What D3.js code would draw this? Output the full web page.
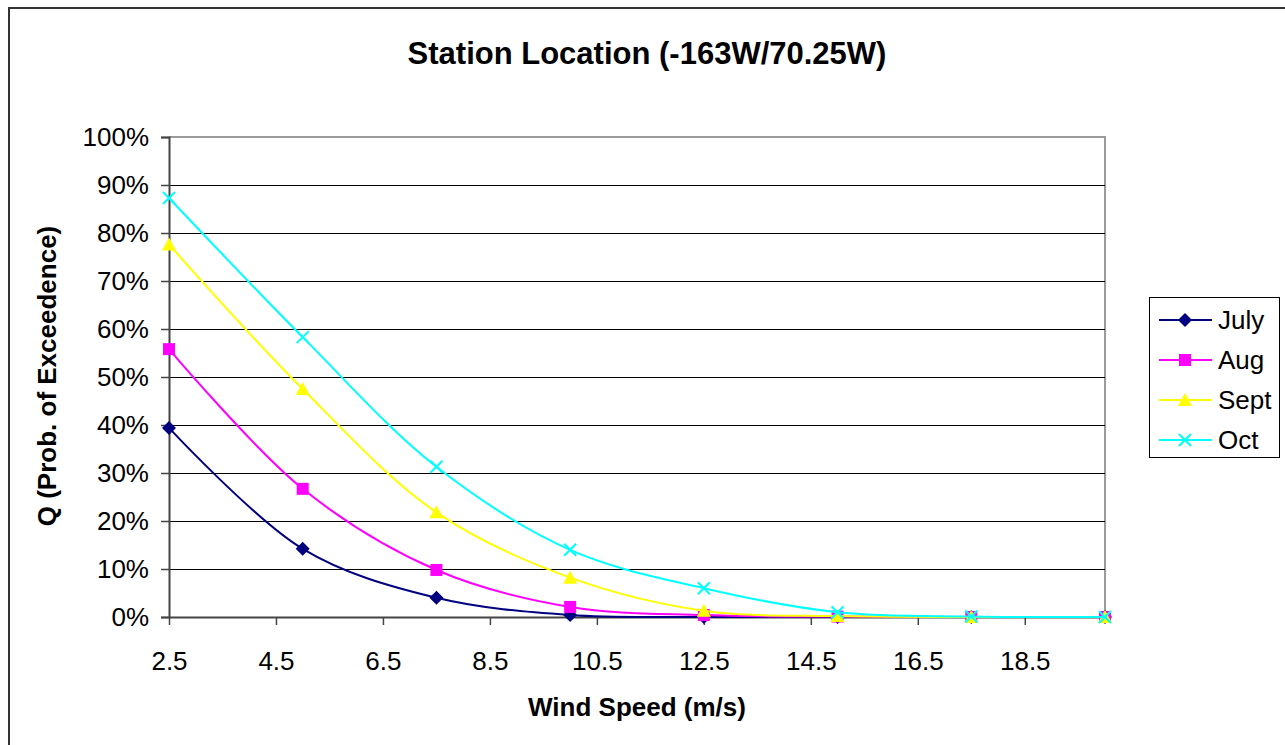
<!DOCTYPE html>
<html lang="en">
<head>
<meta charset="UTF-8">
<title>Station Location (-163W/70.25W)</title>
<script src="https://d3js.org/d3.v7.min.js"></script>
<style>
html, body { margin: 0; padding: 0; background: #fff; }
svg { display: block; font-family: Arial, "Liberation Sans", sans-serif; }
</style>
</head>
<body>
<script>
// wind speed (m/s) and probability of exceedence (%) per month
const windSpeed = [2.5, 5, 7.5, 10, 12.5, 15, 17.5, 20];
const july = [39.4, 14.2, 4.0, 0.4, 0.0, 0.0, 0.0, 0.0];
const aug  = [55.8, 26.7, 9.8, 2.1, 0.4, 0.1, 0.0, 0.0];
const sept = [77.6, 47.5, 21.8, 8.2, 1.3, 0.2, 0.0, 0.0];
const oct  = [87.3, 58.3, 31.3, 14.0, 6.0, 1.0, 0.1, 0.0];
const xTicks = [2.5, 4.5, 6.5, 8.5, 10.5, 12.5, 14.5, 16.5, 18.5];
const yTicks = [0, 10, 20, 30, 40, 50, 60, 70, 80, 90, 100];

const series = [
    {name: 'July', values: july, color: '#000080', marker: 'diamond'},
    {name: 'Aug', values: aug, color: '#ff00ff', marker: 'square'},
    {name: 'Sept', values: sept, color: '#ffff00', marker: 'triangle'},
    {name: 'Oct', values: oct, color: '#00ffff', marker: 'cross'}
];

const w = 1285, h = 745;
const plotL = 169, plotR = 1105, plotT = 137, plotB = 617;
const font = 'Arial, "Liberation Sans", sans-serif';

const svg = d3.select('body').append('svg').attr('width', w).attr('height', h);

// outer chart border (only top and left visible)
svg.append('path').attr('d', 'M9,745 V8 H1285').attr('fill', 'none')
    .attr('stroke', '#333').attr('stroke-width', 2);

const x = d3.scaleLinear().domain([2.5, 20]).range([plotL, plotR]);
const y = d3.scaleLinear().domain([0, 100]).range([plotB, plotT]);

// plot area frame
svg.append('path').attr('d', `M${plotL},${plotT} H${plotR} V${plotB}`)
    .attr('fill', 'none').attr('stroke', '#9a9a9a').attr('stroke-width', 2);

// gridlines
svg.append('g').selectAll('line').data(yTicks.slice(1, -1)).enter().append('line')
    .attr('x1', plotL).attr('x2', plotR)
    .attr('y1', d => Math.round(y(d)) + 0.5).attr('y2', d => Math.round(y(d)) + 0.5)
    .attr('stroke', '#000').attr('stroke-width', 1);

// y axis
const yAxis = d3.axisLeft(y).tickValues(yTicks).tickFormat(d => d + '%').tickSize(8).tickPadding(12);
const gy = svg.append('g').attr('transform', `translate(${plotL},0)`).call(yAxis);
gy.select('.domain').attr('stroke', '#444').attr('stroke-width', 2);
gy.selectAll('.tick line').attr('stroke', '#444').attr('stroke-width', 1.5);
gy.selectAll('text').attr('font-size', 26).attr('fill', '#000').attr('font-family', font);

// x axis
const xAxis = d3.axisBottom(x).tickValues(xTicks).tickFormat(d3.format('.1f')).tickSize(8).tickSizeOuter(0).tickPadding(27);
const gx = svg.append('g').attr('transform', `translate(0,${plotB})`).call(xAxis);
gx.select('.domain').attr('stroke', '#444').attr('stroke-width', 2);
gx.selectAll('.tick line').attr('stroke', '#444').attr('stroke-width', 1.5);
gx.selectAll('text').attr('font-size', 26).attr('fill', '#000').attr('font-family', font);

// marker drawing helper
function drawMarker(g, type, color, cx, cy) {
    if (type === 'diamond') {
        g.append('path').attr('d', `M${cx},${cy - 7} L${cx + 7},${cy} L${cx},${cy + 7} L${cx - 7},${cy} Z`)
            .attr('fill', color);
    } else if (type === 'square') {
        g.append('rect').attr('x', cx - 6).attr('y', cy - 6).attr('width', 12).attr('height', 12)
            .attr('fill', color);
    } else if (type === 'triangle') {
        g.append('path').attr('d', `M${cx},${cy - 7} L${cx + 7},${cy + 6} L${cx - 7},${cy + 6} Z`)
            .attr('fill', color);
    } else {
        g.append('path').attr('d', `M${cx - 6},${cy - 6} L${cx + 6},${cy + 6} M${cx - 6},${cy + 6} L${cx + 6},${cy - 6}`)
            .attr('stroke', color).attr('stroke-width', 2);
    }
}

const line = d3.line().x(d => x(d[0])).y(d => y(d[1])).curve(d3.curveCatmullRom.alpha(0.5));

series.forEach(s => {
    const pts = windSpeed.map((v, i) => [v, s.values[i]]);
    const g = svg.append('g');
    g.append('path').datum(pts).attr('d', line).attr('fill', 'none')
        .attr('stroke', s.color).attr('stroke-width', 2);
    pts.forEach(p => drawMarker(g, s.marker, s.color, x(p[0]), y(p[1])));
});

// title and axis titles
svg.append('text').attr('x', 647).attr('y', 64).attr('text-anchor', 'middle').attr('font-family', font)
    .attr('font-size', 31).attr('font-weight', 'bold').text('Station Location (-163W/70.25W)');
svg.append('text').attr('x', 637).attr('y', 716).attr('text-anchor', 'middle').attr('font-family', font)
    .attr('font-size', 26).attr('font-weight', 'bold').text('Wind Speed (m/s)');
svg.append('text').attr('transform', 'translate(56,376) rotate(-90)').attr('text-anchor', 'middle')
    .attr('font-family', font).attr('font-size', 26).attr('font-weight', 'bold').text('Q (Prob. of Exceedence)');

// legend
const legend = svg.append('g');
legend.append('rect').attr('x', 1149.5).attr('y', 297.5).attr('width', 130).attr('height', 160)
    .attr('fill', '#fff').attr('stroke', '#000').attr('stroke-width', 1);
series.forEach((s, i) => {
    const ly = 320 + i * 40;
    legend.append('line').attr('x1', 1159).attr('x2', 1212).attr('y1', ly).attr('y2', ly)
        .attr('stroke', s.color).attr('stroke-width', 2);
    drawMarker(legend, s.marker, s.color, 1185, ly);
    legend.append('text').attr('x', 1218).attr('y', ly + 9).attr('font-family', font)
        .attr('font-size', 26).text(s.name);
});
</script>
</body>
</html>
